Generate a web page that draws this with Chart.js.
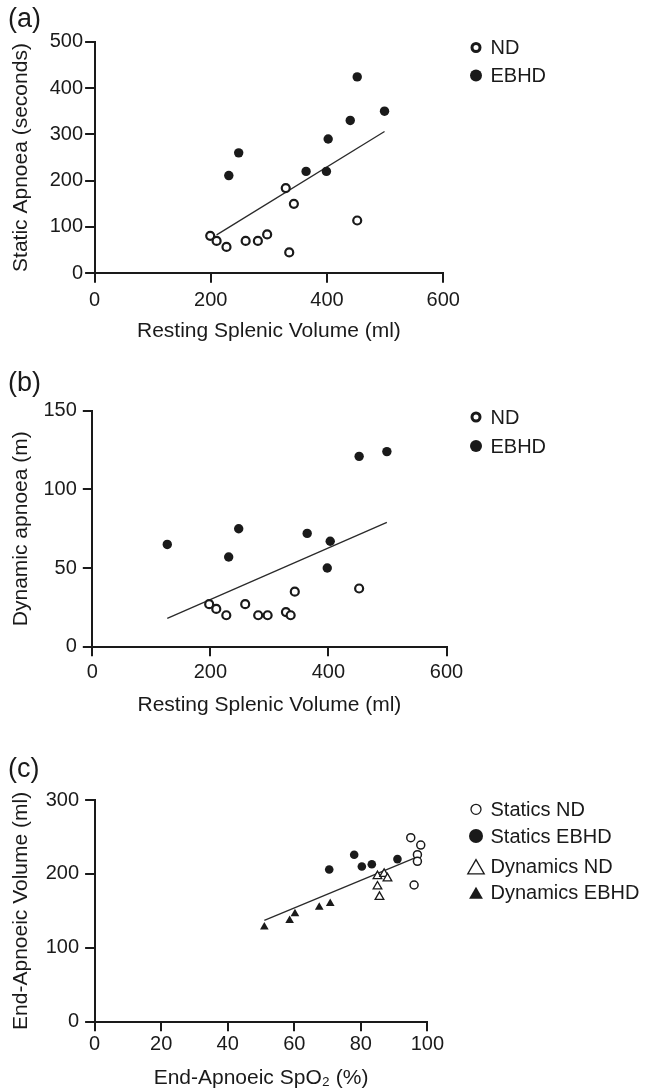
<!DOCTYPE html>
<html>
<head>
<meta charset="utf-8">
<script src="https://cdn.jsdelivr.net/npm/chart.js@4.4.0/dist/chart.umd.min.js"></script>
<style>
  html, body { margin: 0; padding: 0; background: #fff; }
  body { width: 651px; height: 1092px; position: relative; overflow: hidden;
         font-family: "Liberation Sans", Arial, Helvetica, sans-serif; color: #1a1a1a; }
  canvas { position: absolute; left: 0; }
  .tag { position: absolute; left: 8px; font-size: 27px; line-height: 27px; }
</style>
</head>
<body>
<canvas id="chartA" width="651" height="350" style="top:0px"></canvas>
<canvas id="chartB" width="651" height="350" style="top:370px"></canvas>
<canvas id="chartC" width="651" height="362" style="top:730px"></canvas>
<div class="tag" style="top:5px">(a)</div>
<div class="tag" style="top:369px">(b)</div>
<div class="tag" style="top:755px">(c)</div>
<script>
// (a) static apnoea vs resting splenic volume
let ndVolA = [199, 210, 227, 260, 281, 297, 329, 343, 335, 452];
let ndStaticA = [81, 70, 57, 70, 70, 84, 184, 150, 45, 114];
let ebhdVolA = [231, 248, 364, 399, 402, 440, 452, 499];
let ebhdStaticA = [211, 260, 220, 220, 290, 330, 424, 350];
let fitVolA = [210, 499];
let fitStaticA = [83, 306];

// (b) dynamic apnoea vs resting splenic volume
let ndVolB = [198, 210, 227, 259, 281, 297, 328, 336, 343, 452];
let ndDynB = [27, 24, 20, 27, 20, 20, 22, 20, 35, 37];
let ebhdVolB = [127, 231, 248, 364, 403, 398, 452, 499];
let ebhdDynB = [65, 57, 75, 72, 67, 50, 121, 124];
let fitVolB = [127, 499];
let fitDynB = [18, 79];

// (c) end-apnoeic volume vs end-apnoeic SpO2
let staticsNdSpo2 = [95, 98, 97, 97, 96];
let staticsNdVol = [249, 239, 226, 217, 185];
let staticsEbhdSpo2 = [70.5, 78, 80.3, 83.3, 91];
let staticsEbhdVol = [206, 226, 210, 213, 220];
let dynNdSpo2 = [85, 87, 88, 85, 85.6];
let dynNdVol = [197, 200, 194, 183, 169];
let dynEbhdSpo2 = [51, 58.6, 60.2, 67.5, 70.8];
let dynEbhdVol = [128, 137, 146, 155, 160];
let fitSpo2C = [51, 97];
let fitVolC = [137, 223];

const ink = '#1a1a1a';
const fontFamily = '"Liberation Sans", Arial, Helvetica, sans-serif';

function pts(xs, ys) {
  return xs.map((x, i) => ({x: x, y: ys[i]}));
}

function marker(ctx, style, x, y, r) {
  ctx.beginPath();
  if (style === 'triangle') {
    for (let k = 0; k < 3; k++) {
      let a = k * 2 * Math.PI / 3;
      let px = x + Math.sin(a) * r, py = y - Math.cos(a) * r;
      if (k === 0) ctx.moveTo(px, py); else ctx.lineTo(px, py);
    }
    ctx.closePath();
  } else {
    ctx.arc(x, y, r, 0, Math.PI * 2);
  }
}

// legend drawn to the right of the plot
const sideLegend = {
  id: 'sideLegend',
  afterDraw(chart, args, opts) {
    if (!opts || !opts.items) return;
    const ctx = chart.ctx;
    ctx.save();
    opts.items.forEach((it, i) => {
      let ds = chart.data.datasets[it.dataset];
      let y = opts.ys[i];
      let my = it.style === 'triangle' ? y + it.r / 4 : y;
      marker(ctx, it.style, opts.x, my, it.r);
      ctx.fillStyle = it.open ? '#fff' : ink;
      ctx.fill();
      if (it.open) {
        ctx.lineWidth = it.lw;
        ctx.strokeStyle = ink;
        ctx.stroke();
      }
      ctx.fillStyle = ink;
      ctx.font = '20px ' + fontFamily;
      ctx.textBaseline = 'middle';
      ctx.textAlign = 'left';
      ctx.fillText(ds.label, opts.textX, y + 1);
    });
    ctx.restore();
  }
};

function axis(min, max, step, tickPad, title, titlePad, fit) {
  return {
    type: 'linear',
    min: min,
    max: max,
    ticks: {stepSize: step, padding: tickPad, color: ink, font: {family: fontFamily, size: 20}},
    grid: {drawOnChartArea: false, drawTicks: true, tickLength: 9.5, tickWidth: 2, tickColor: ink, color: ink, lineWidth: 2},
    border: {display: true, color: ink, width: 2},
    title: {display: true, text: title, color: ink, font: {family: fontFamily, size: 21}, padding: titlePad},
    afterFit: fit
  };
}

function makeChart(id, box, xs, ys, datasets, legend) {
  const half = 12.6;
  let xa = axis(xs.min, xs.max, xs.step, xs.pad, xs.title, {top: 0, bottom: 0},
    function (s) { s.height = box.titleY + half - box.bottom; });
  let ya = axis(ys.min, ys.max, ys.step, ys.pad, ys.title, {top: 9, bottom: 0},
    function (s) { s.width = box.left; });
  ya.position = 'left';
  xa.position = 'bottom';
  return new Chart(document.getElementById(id), {
    type: 'scatter',
    data: {datasets: datasets},
    options: {
      responsive: false,
      animation: false,
      events: [],
      layout: {padding: {top: box.top, left: 0, right: 651 - box.right, bottom: box.height - box.titleY - half}},
      plugins: {legend: {display: false}, tooltip: {enabled: false}, sideLegend: legend},
      scales: {x: xa, y: ya}
    },
    plugins: [sideLegend]
  });
}

function openSet(label, xs, ys, style, r, lw) {
  return {label: label, data: pts(xs, ys), pointStyle: style, pointRadius: r, borderWidth: lw,
          backgroundColor: '#fff', borderColor: ink, order: 1};
}
function filledSet(label, xs, ys, style, r) {
  return {label: label, data: pts(xs, ys), pointStyle: style, pointRadius: r, borderWidth: 0,
          backgroundColor: ink, borderColor: ink, order: 1};
}
function fitLine(xs, ys) {
  return {type: 'line', label: 'fit', data: pts(xs, ys), borderColor: '#2a2a2a', borderWidth: 1.3,
          pointRadius: 0, fill: false, tension: 0, order: 10};
}

makeChart('chartA',
  {top: 41.7, bottom: 273.3, left: 94.6, right: 443.2, titleY: 331.5, height: 350},
  {min: 0, max: 600, step: 200, pad: 5.5, title: 'Resting Splenic Volume (ml)'},
  {min: 0, max: 500, step: 100, pad: 2, title: 'Static Apnoea (seconds)'},
  [
    openSet('ND', ndVolA, ndStaticA, 'circle', 4, 2.2),
    filledSet('EBHD', ebhdVolA, ebhdStaticA, 'circle', 4.7),
    fitLine(fitVolA, fitStaticA)
  ],
  {x: 476, textX: 490.5, ys: [47.5, 75.5], items: [
    {dataset: 0, style: 'circle', r: 4, lw: 3, open: true},
    {dataset: 1, style: 'circle', r: 6}
  ]});

makeChart('chartB',
  {top: 40.7, bottom: 276.7, left: 92.3, right: 446.5, titleY: 335, height: 350},
  {min: 0, max: 600, step: 200, pad: 4, title: 'Resting Splenic Volume (ml)'},
  {min: 0, max: 150, step: 50, pad: 6, title: 'Dynamic apnoea (m)'},
  [
    openSet('ND', ndVolB, ndDynB, 'circle', 4, 2.2),
    filledSet('EBHD', ebhdVolB, ebhdDynB, 'circle', 4.7),
    fitLine(fitVolB, fitDynB)
  ],
  {x: 476, textX: 490.5, ys: [47, 76], items: [
    {dataset: 0, style: 'circle', r: 4, lw: 3, open: true},
    {dataset: 1, style: 'circle', r: 6}
  ]});

makeChart('chartC',
  {top: 70, bottom: 291.7, left: 94.6, right: 427.4, titleY: 348, height: 362},
  {min: 0, max: 100, step: 20, pad: 1.5, title: 'End-Apnoeic SpO\u2082 (%)'},
  {min: 0, max: 300, step: 100, pad: 6, title: 'End-Apnoeic Volume (ml)'},
  [
    openSet('Statics ND', staticsNdSpo2, staticsNdVol, 'circle', 4, 1.5),
    filledSet('Statics EBHD', staticsEbhdSpo2, staticsEbhdVol, 'circle', 4.3),
    openSet('Dynamics ND', dynNdSpo2, dynNdVol, 'triangle', 5, 1.3),
    filledSet('Dynamics EBHD', dynEbhdSpo2, dynEbhdVol, 'triangle', 5),
    fitLine(fitSpo2C, fitVolC)
  ],
  {x: 476, textX: 490.5, ys: [79.3, 106, 136.7, 162.7], items: [
    {dataset: 0, style: 'circle', r: 5, lw: 1.3, open: true},
    {dataset: 1, style: 'circle', r: 7},
    {dataset: 2, style: 'triangle', r: 9.5, lw: 1.3, open: true},
    {dataset: 3, style: 'triangle', r: 8}
  ]});
</script>
</body>
</html>
